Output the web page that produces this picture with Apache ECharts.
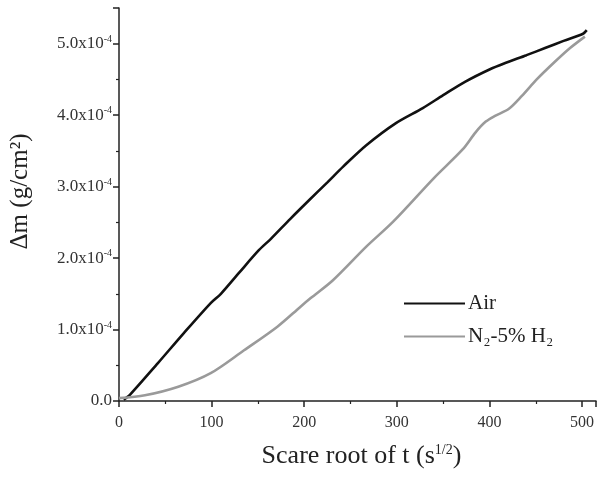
<!DOCTYPE html>
<html>
<head>
<meta charset="utf-8">
<script src="https://cdn.jsdelivr.net/npm/echarts@6/dist/echarts.min.js"></script>
<style>
  html, body { margin: 0; padding: 0; background: #fff; }
  #chart { width: 599px; height: 477px; }
</style>
</head>
<body>
<div id="chart"></div>
<script>
// x: square root of t (s^1/2), y: mass gain in units of 1e-4 g/cm2
const airX = [5, 12, 42, 70, 99, 110, 130, 151, 164, 185, 206, 225, 242, 267, 299, 328, 350, 374, 400, 417, 440, 460, 480, 501, 505];
const airY = [0.02, 0.09, 0.53, 0.95, 1.37, 1.50, 1.80, 2.11, 2.27, 2.55, 2.82, 3.06, 3.28, 3.58, 3.89, 4.10, 4.28, 4.47, 4.64, 4.73, 4.84, 4.94, 5.04, 5.14, 5.19];

const n2X = [0, 28, 64, 99, 135, 171, 196, 207, 231, 267, 296, 340, 371, 385, 396, 406, 421, 435, 451, 470, 487, 503];
const n2Y = [0.04, 0.08, 0.20, 0.39, 0.71, 1.04, 1.32, 1.44, 1.69, 2.16, 2.51, 3.12, 3.52, 3.76, 3.91, 3.99, 4.09, 4.27, 4.50, 4.74, 4.94, 5.10];

const yTicks = ['0.0', '1.0', '2.0', '3.0', '4.0', '5.0'];
const seriesNames = ['Air', 'N₂-5% H₂'];

const font = 'Liberation Serif';

function pairs(xs, ys) {
    return xs.map((x, i) => [x, ys[i]]);
}

let myChart = echarts.init(document.getElementById('chart'));

let options = {
    animation: false,
    backgroundColor: '#fff',
    textStyle: { fontFamily: font, color: '#222' },
    grid: { left: 117, top: 8, right: 1, bottom: 76, containLabel: false },
    legend: {
        orient: 'vertical',
        left: 399,
        top: 288,
        itemWidth: 61,
        itemHeight: 10,
        itemGap: 12,
        icon: 'path://M0,4L61,4L61,6L0,6Z',
        textStyle: { fontFamily: font, fontSize: 21, color: '#222', padding: [0, 0, 0, -2] },
        data: seriesNames
    },
    xAxis: {
        type: 'value',
        min: 0,
        max: 515,
        interval: 100,
        name: 'Scare root of t (s{s|1/2})',
        nameLocation: 'middle',
        nameGap: 42,
        nameTextStyle: {
            fontFamily: font, fontSize: 26, color: '#222', padding: [0, 0, 0, 8],
            rich: { s: { fontFamily: font, fontSize: 14, verticalAlign: 'top', padding: [0, 0, 12, 0], color: '#222' } }
        },
        axisLine: { lineStyle: { color: '#222', width: 1.5 } },
        axisTick: { inside: false, length: 6, lineStyle: { color: '#222', width: 1.5 } },
        minorTick: { show: true, splitNumber: 2, length: 3, lineStyle: { color: '#222', width: 1.2 } },
        splitLine: { show: false },
        axisLabel: {
            fontFamily: font, fontSize: 16, color: '#333', margin: 14,
            formatter: v => (v % 100 === 0 ? String(v) : '')
        }
    },
    yAxis: {
        type: 'value',
        min: 0,
        max: 5.5,
        interval: 1,
        name: 'Δm (g/cm²)',
        nameLocation: 'middle',
        nameGap: 86,
        nameTextStyle: { fontFamily: font, fontSize: 25, color: '#222', padding: [0, 0, 0, 26] },
        axisLine: { show: true, lineStyle: { color: '#222', width: 1.5 } },
        axisTick: { show: true, inside: false, length: 6, lineStyle: { color: '#222', width: 1.5 } },
        minorTick: { show: true, splitNumber: 2, length: 3, lineStyle: { color: '#222', width: 1.2 } },
        splitLine: { show: false },
        axisLabel: {
            fontFamily: font, fontSize: 17, color: '#333', margin: 7,
            formatter: v => {
                let i = Math.round(v);
                if (Math.abs(v - i) > 1e-6 || i > 5) return '';
                if (i === 0) return '0.0';
                return yTicks[i] + 'x10{s|-4}';
            },
            rich: { s: { fontFamily: font, fontSize: 10, verticalAlign: 'top', padding: [0, 0, 9, 0], color: '#333' } }
        }
    },
    series: [
        {
            name: seriesNames[0],
            type: 'line',
            data: pairs(airX, airY),
            showSymbol: false,
            smooth: 0.3,
            lineStyle: { color: '#111', width: 2.6 },
            itemStyle: { color: '#111' }
        },
        {
            name: seriesNames[1],
            type: 'line',
            data: pairs(n2X, n2Y),
            showSymbol: false,
            smooth: 0.3,
            lineStyle: { color: '#9a9a9a', width: 2.6 },
            itemStyle: { color: '#9a9a9a' }
        }
    ]
};

myChart.setOption(options);
</script>
</body>
</html>
